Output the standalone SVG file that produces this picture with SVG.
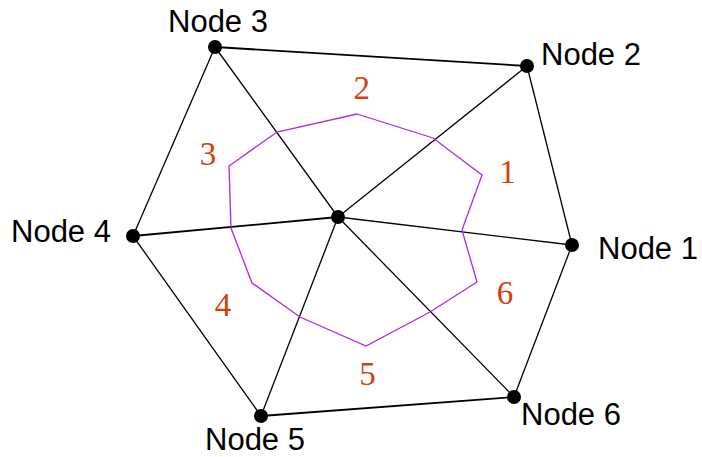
<svg xmlns="http://www.w3.org/2000/svg" width="702" height="457" viewBox="0 0 702 457">
<style>
.edge{stroke:#000;stroke-width:1.3;fill:none}
.thick{stroke-width:1.8}
.dual{stroke:#b026e8;stroke-width:1.3;fill:none}
.dot{fill:#000}
.lbl{font-family:"Liberation Sans",Arial,sans-serif;font-size:31px;fill:#000}
.num{font-family:"Liberation Serif","Times New Roman",serif;font-size:33px;fill:#d4400c;text-anchor:middle}
</style>
<rect width="702" height="457" fill="#fff"/>
<g id="connectors">
<line class="edge" x1="338" y1="217" x2="572" y2="245"/>
<line class="edge" x1="338" y1="217" x2="527" y2="66"/>
<line class="edge" x1="338" y1="217" x2="215" y2="47"/>
<line class="edge thick" x1="338" y1="217" x2="133" y2="236"/>
<line class="edge" x1="338" y1="217" x2="261" y2="416"/>
<line class="edge" x1="338" y1="217" x2="514" y2="397"/>
<line class="edge" x1="572" y1="245" x2="527" y2="66"/>
<line class="edge thick" x1="527" y1="66" x2="215" y2="47"/>
<line class="edge" x1="215" y1="47" x2="133" y2="236"/>
<line class="edge" x1="133" y1="236" x2="261" y2="416"/>
<line class="edge thick" x1="261" y1="416" x2="514" y2="397"/>
<line class="edge" x1="514" y1="397" x2="572" y2="245"/>
</g>
<g id="dual">
<polygon class="dual" points="357,114 433,138 482,175 462,230 477,282 430,312 366,346 300,317 252,283 231,228 229,166 277,132"/>
</g>
<g id="center"><circle class="dot" cx="338" cy="217" r="7"/></g>
<g id="node1"><circle class="dot" cx="572" cy="245" r="7"/><text class="lbl" x="598" y="259">Node 1</text></g>
<g id="node2"><circle class="dot" cx="527" cy="66" r="7"/><text class="lbl" x="541" y="65">Node 2</text></g>
<g id="node3"><circle class="dot" cx="215" cy="47" r="7"/><text class="lbl" x="168" y="32">Node 3</text></g>
<g id="node4"><circle class="dot" cx="133" cy="236" r="7"/><text class="lbl" x="11" y="242">Node 4</text></g>
<g id="node5"><circle class="dot" cx="261" cy="416" r="7"/><text class="lbl" x="205" y="450">Node 5</text></g>
<g id="node6"><circle class="dot" cx="514" cy="397" r="7"/><text class="lbl" x="521" y="425">Node 6</text></g>
<g id="labels">
<text class="num" x="507.5" y="183">1</text>
<text class="num" x="361.7" y="99">2</text>
<text class="num" x="208" y="165">3</text>
<text class="num" x="223" y="316">4</text>
<text class="num" x="367.5" y="385">5</text>
<text class="num" x="505" y="304">6</text>
</g>
</svg>
